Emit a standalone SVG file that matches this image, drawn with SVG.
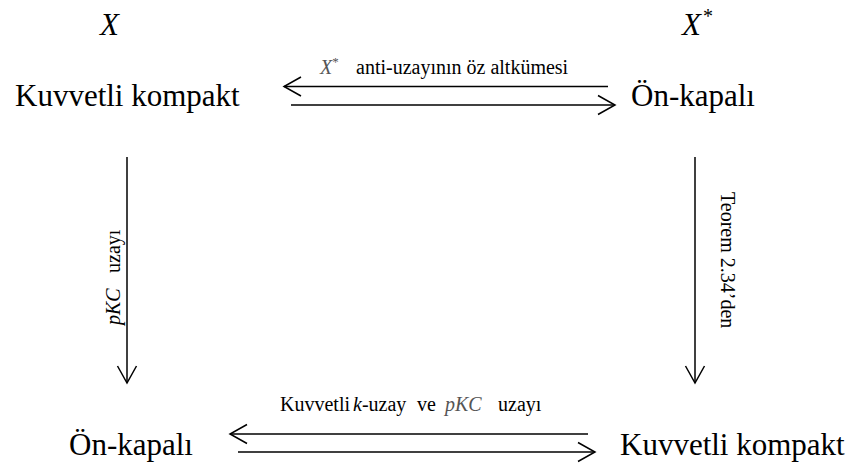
<svg xmlns="http://www.w3.org/2000/svg" width="854" height="467" viewBox="0 0 854 467">
  <style>
    text { font-family: "Liberation Serif", "Times New Roman", serif; fill: #000; }
    .node { font-size: 31px; }
    .lbl { font-size: 20px; }
    .it { font-style: italic; }
    .gray { fill: #555; }
    .arrow { stroke: #000; stroke-width: 1.5; fill: none; marker-end: url(#chev); }
    .arrow-rev { stroke: #000; stroke-width: 1.5; fill: none; marker-start: url(#chev); }
  </style>
  <defs>
    <!-- open chevron arrowhead, reversed automatically at line starts -->
    <marker id="chev" markerUnits="userSpaceOnUse" viewBox="-20 -12 24 24" refX="0" refY="0" markerWidth="24" markerHeight="24" orient="auto-start-reverse">
      <path d="M-17,-9.5 L0,0 L-17,9.5" fill="none" stroke="#000" stroke-width="1.5"/>
    </marker>
  </defs>
  <rect width="854" height="467" fill="#fff"/>

  <!-- space headings -->
  <g id="space-x">
    <text class="node it" x="100" y="35">X</text>
  </g>
  <g id="space-xstar">
    <text class="node it" x="682" y="35">X</text>
    <text class="lbl" x="703" y="23">*</text>
  </g>

  <!-- nodes -->
  <g id="n-top-left">
    <text class="node" x="15" y="106">Kuvvetli kompakt</text>
  </g>
  <g id="n-top-right">
    <text class="node" x="631" y="106">Ön-kapalı</text>
  </g>
  <g id="n-bottom-left">
    <text class="node" x="69" y="455">Ön-kapalı</text>
  </g>
  <g id="n-bottom-right">
    <text class="node" x="620" y="455">Kuvvetli kompakt</text>
  </g>

  <!-- connectors -->
  <g id="connectors">
    <line class="arrow-rev" x1="284" y1="86.5" x2="608" y2="86.5"/>
    <line class="arrow" x1="291" y1="105" x2="615" y2="105"/>
    <line class="arrow" x1="127" y1="157" x2="127" y2="383"/>
    <line class="arrow" x1="695" y1="157" x2="695" y2="383"/>
    <line class="arrow-rev" x1="230" y1="434" x2="588" y2="434"/>
    <line class="arrow" x1="238" y1="452" x2="595" y2="452"/>

    <!-- connector labels -->
    <text class="lbl" y="74"><tspan class="it gray" x="320">X</tspan><tspan class="gray" font-size="13" dy="-8">*</tspan><tspan x="356" dy="8">anti-uzayının öz altkümesi</tspan></text>
    <text class="lbl" font-size="23" transform="translate(120,325) rotate(-90)"><tspan class="it" x="0">pKC</tspan><tspan x="52">uzayı</tspan></text>
    <text class="lbl" font-size="21" transform="translate(721,192) rotate(90)">Teorem 2.34’den</text>
    <text class="lbl" font-size="18" y="411"><tspan x="280">Kuvvetli</tspan><tspan class="it" x="353">k</tspan><tspan>-uzay</tspan><tspan x="417">ve</tspan><tspan class="it gray" x="445">pKC</tspan><tspan x="498">uzayı</tspan></text>
  </g>
</svg>
